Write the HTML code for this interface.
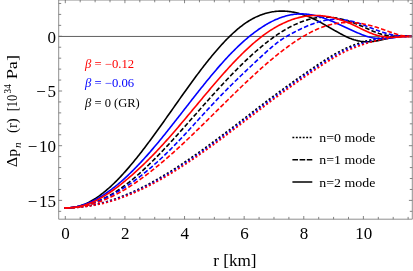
<!DOCTYPE html>
<html><head><meta charset="utf-8"><style>
html,body{margin:0;padding:0;background:#fff;}
body{width:413px;height:271px;overflow:hidden;font-family:"Liberation Serif",serif;}
svg{display:block}
</style></head><body>
<svg style="will-change:transform" width="413" height="271" viewBox="0 0 413 271">
<rect width="413" height="271" fill="#fff"/>
<path d="M58.7 36.45 H412.3" stroke="#2a2a2a" stroke-width="0.75" fill="none"/>
<path d="M64.50 207.90 L65.25 207.90 L66.34 207.78 L67.42 207.76 L68.51 207.73 L69.59 207.69 L70.68 207.65 L71.76 207.60 L72.85 207.54 L73.93 207.48 L75.02 207.40 L76.10 207.32 L77.19 207.23 L78.28 207.13 L79.36 207.02 L80.45 206.91 L81.53 206.79 L82.62 206.66 L83.70 206.52 L84.79 206.37 L85.87 206.22 L86.96 206.06 L88.04 205.89 L89.13 205.71 L90.21 205.52 L91.30 205.32 L92.39 205.11 L93.47 204.90 L94.56 204.67 L95.64 204.44 L96.73 204.20 L97.81 203.95 L98.90 203.70 L99.98 203.43 L101.07 203.16 L102.15 202.88 L103.24 202.59 L104.33 202.30 L105.41 201.99 L106.50 201.68 L107.58 201.36 L108.67 201.03 L109.75 200.70 L110.84 200.35 L111.92 200.00 L113.01 199.64 L114.09 199.28 L115.18 198.90 L116.26 198.52 L117.35 198.13 L118.44 197.74 L119.52 197.33 L120.61 196.92 L121.69 196.51 L122.78 196.08 L123.86 195.65 L124.95 195.21 L126.03 194.77 L127.12 194.32 L128.20 193.86 L129.29 193.39 L130.38 192.92 L131.46 192.44 L132.55 191.96 L133.63 191.47 L134.72 190.97 L135.80 190.46 L136.89 189.95 L137.97 189.43 L139.06 188.91 L140.14 188.38 L141.23 187.85 L142.32 187.30 L143.40 186.76 L144.49 186.20 L145.57 185.64 L146.66 185.08 L147.74 184.51 L148.83 183.93 L149.91 183.35 L151.00 182.76 L152.08 182.17 L153.17 181.57 L154.25 180.96 L155.34 180.35 L156.43 179.74 L157.51 179.12 L158.60 178.49 L159.68 177.86 L160.77 177.23 L161.85 176.59 L162.94 175.95 L164.02 175.31 L165.11 174.66 L166.19 174.00 L167.28 173.34 L168.37 172.68 L169.45 172.01 L170.54 171.34 L171.62 170.66 L172.71 169.98 L173.79 169.29 L174.88 168.60 L175.96 167.91 L177.05 167.21 L178.13 166.51 L179.22 165.80 L180.30 165.09 L181.39 164.37 L182.48 163.65 L183.56 162.93 L184.65 162.21 L185.73 161.47 L186.82 160.74 L187.90 160.00 L188.99 159.26 L190.07 158.52 L191.16 157.77 L192.24 157.02 L193.33 156.27 L194.42 155.51 L195.50 154.75 L196.59 153.98 L197.67 153.22 L198.76 152.45 L199.84 151.67 L200.93 150.90 L202.01 150.13 L203.10 149.35 L204.18 148.57 L205.27 147.79 L206.36 147.00 L207.44 146.22 L208.53 145.43 L209.61 144.64 L210.70 143.84 L211.78 143.04 L212.87 142.25 L213.95 141.44 L215.04 140.64 L216.12 139.84 L217.21 139.03 L218.29 138.22 L219.38 137.41 L220.47 136.59 L221.55 135.78 L222.64 134.96 L223.72 134.15 L224.81 133.33 L225.89 132.51 L226.98 131.68 L228.06 130.86 L229.15 130.03 L230.23 129.21 L231.32 128.38 L232.41 127.55 L233.49 126.72 L234.58 125.89 L235.66 125.06 L236.75 124.22 L237.83 123.39 L238.92 122.55 L240.00 121.72 L241.09 120.88 L242.17 120.05 L243.26 119.21 L244.34 118.37 L245.43 117.54 L246.52 116.70 L247.60 115.86 L248.69 115.02 L249.77 114.19 L250.86 113.35 L251.94 112.51 L253.03 111.68 L254.11 110.84 L255.20 110.01 L256.28 109.17 L257.37 108.34 L258.46 107.50 L259.54 106.67 L260.63 105.84 L261.71 105.01 L262.80 104.19 L263.88 103.36 L264.97 102.54 L266.05 101.72 L267.14 100.90 L268.22 100.08 L269.31 99.26 L270.39 98.44 L271.48 97.63 L272.57 96.82 L273.65 96.01 L274.74 95.20 L275.82 94.39 L276.91 93.59 L277.99 92.79 L279.08 91.99 L280.16 91.19 L281.25 90.39 L282.33 89.60 L283.42 88.81 L284.51 88.02 L285.59 87.23 L286.68 86.44 L287.76 85.66 L288.85 84.88 L289.93 84.10 L291.02 83.32 L292.10 82.55 L293.19 81.77 L294.27 81.00 L295.36 80.23 L296.45 79.46 L297.53 78.70 L298.62 77.93 L299.70 77.17 L300.79 76.41 L301.87 75.65 L302.96 74.90 L304.04 74.14 L305.13 73.39 L306.21 72.64 L307.30 71.89 L308.38 71.15 L309.47 70.40 L310.56 69.66 L311.64 68.92 L312.73 68.18 L313.81 67.44 L314.90 66.71 L315.98 65.98 L317.07 65.25 L318.15 64.52 L319.24 63.80 L320.32 63.08 L321.41 62.37 L322.50 61.66 L323.58 60.95 L324.67 60.25 L325.75 59.56 L326.84 58.87 L327.92 58.19 L329.01 57.52 L330.09 56.85 L331.18 56.20 L332.26 55.55 L333.35 54.92 L334.43 54.29 L335.52 53.67 L336.61 53.07 L337.69 52.47 L338.78 51.88 L339.86 51.30 L340.95 50.74 L342.03 50.18 L343.12 49.64 L344.20 49.11 L345.29 48.59 L346.37 48.09 L347.46 47.60 L348.55 47.12 L349.63 46.66 L350.72 46.21 L351.80 45.78 L352.89 45.35 L353.97 44.94 L355.06 44.54 L356.14 44.15 L357.23 43.77 L358.31 43.40 L359.40 43.03 L360.49 42.68 L361.57 42.35 L362.66 42.03 L363.74 41.72 L364.83 41.41 L365.91 41.11 L367.00 40.82 L368.08 40.54 L369.17 40.27 L370.25 40.00 L371.34 39.74 L372.42 39.49 L373.51 39.25 L374.60 39.02 L375.68 38.80 L376.77 38.58 L377.85 38.37 L378.94 38.17 L380.02 37.98 L381.11 37.80 L382.19 37.63 L383.28 37.46 L384.36 37.31 L385.45 37.16 L386.54 37.03 L387.62 36.91 L388.71 36.80 L389.79 36.69 L390.88 36.60 L391.96 36.51 L393.05 36.44 L394.13 36.37 L395.22 36.31 L396.30 36.26 L397.39 36.21 L398.47 36.18 L399.56 36.16 L400.65 36.14 L401.73 36.12 L402.82 36.11 L403.90 36.12 L404.99 36.13 L406.07 36.15 L407.16 36.18 L408.24 36.22 L409.33 36.27 L410.41 36.32 L411.50 36.39" fill="none" stroke="#000000" stroke-width="1.6" stroke-dasharray="2.1 2.1"/>
<path d="M64.50 207.90 L65.25 207.90 L66.34 207.83 L67.42 207.81 L68.51 207.78 L69.59 207.73 L70.68 207.66 L71.76 207.59 L72.85 207.49 L73.93 207.38 L75.02 207.26 L76.10 207.12 L77.19 206.96 L78.28 206.80 L79.36 206.61 L80.45 206.41 L81.53 206.20 L82.62 205.97 L83.70 205.73 L84.79 205.47 L85.87 205.19 L86.96 204.91 L88.04 204.60 L89.13 204.28 L90.21 203.95 L91.30 203.60 L92.39 203.24 L93.47 202.86 L94.56 202.47 L95.64 202.06 L96.73 201.63 L97.81 201.19 L98.90 200.74 L99.98 200.27 L101.07 199.79 L102.15 199.29 L103.24 198.78 L104.33 198.25 L105.41 197.71 L106.50 197.15 L107.58 196.57 L108.67 195.98 L109.75 195.38 L110.84 194.76 L111.92 194.13 L113.01 193.48 L114.09 192.82 L115.18 192.14 L116.26 191.44 L117.35 190.74 L118.44 190.01 L119.52 189.28 L120.61 188.53 L121.69 187.76 L122.78 186.98 L123.86 186.19 L124.95 185.39 L126.03 184.57 L127.12 183.74 L128.20 182.90 L129.29 182.04 L130.38 181.17 L131.46 180.29 L132.55 179.40 L133.63 178.50 L134.72 177.58 L135.80 176.66 L136.89 175.72 L137.97 174.77 L139.06 173.81 L140.14 172.84 L141.23 171.87 L142.32 170.88 L143.40 169.88 L144.49 168.87 L145.57 167.85 L146.66 166.83 L147.74 165.79 L148.83 164.75 L149.91 163.69 L151.00 162.63 L152.08 161.56 L153.17 160.48 L154.25 159.40 L155.34 158.31 L156.43 157.21 L157.51 156.10 L158.60 154.98 L159.68 153.86 L160.77 152.74 L161.85 151.60 L162.94 150.46 L164.02 149.32 L165.11 148.16 L166.19 147.01 L167.28 145.84 L168.37 144.68 L169.45 143.50 L170.54 142.33 L171.62 141.14 L172.71 139.96 L173.79 138.77 L174.88 137.57 L175.96 136.38 L177.05 135.17 L178.13 133.97 L179.22 132.76 L180.30 131.55 L181.39 130.34 L182.48 129.12 L183.56 127.90 L184.65 126.68 L185.73 125.46 L186.82 124.24 L187.90 123.01 L188.99 121.78 L190.07 120.56 L191.16 119.33 L192.24 118.10 L193.33 116.87 L194.42 115.64 L195.50 114.41 L196.59 113.18 L197.67 111.95 L198.76 110.72 L199.84 109.49 L200.93 108.26 L202.01 107.04 L203.10 105.81 L204.18 104.59 L205.27 103.37 L206.36 102.15 L207.44 100.93 L208.53 99.71 L209.61 98.50 L210.70 97.29 L211.78 96.08 L212.87 94.88 L213.95 93.68 L215.04 92.48 L216.12 91.29 L217.21 90.10 L218.29 88.91 L219.38 87.73 L220.47 86.55 L221.55 85.37 L222.64 84.20 L223.72 83.04 L224.81 81.88 L225.89 80.72 L226.98 79.57 L228.06 78.43 L229.15 77.29 L230.23 76.15 L231.32 75.02 L232.41 73.90 L233.49 72.78 L234.58 71.67 L235.66 70.57 L236.75 69.47 L237.83 68.38 L238.92 67.30 L240.00 66.22 L241.09 65.15 L242.17 64.09 L243.26 63.04 L244.34 61.99 L245.43 60.95 L246.52 59.92 L247.60 58.90 L248.69 57.88 L249.77 56.87 L250.86 55.88 L251.94 54.89 L253.03 53.91 L254.11 52.94 L255.20 51.98 L256.28 51.02 L257.37 50.08 L258.46 49.15 L259.54 48.23 L260.63 47.31 L261.71 46.41 L262.80 45.52 L263.88 44.64 L264.97 43.77 L266.05 42.91 L267.14 42.06 L268.22 41.22 L269.31 40.39 L270.39 39.58 L271.48 38.78 L272.57 37.99 L273.65 37.21 L274.74 36.44 L275.82 35.68 L276.91 34.94 L277.99 34.21 L279.08 33.50 L280.16 32.79 L281.25 32.10 L282.33 31.42 L283.42 30.76 L284.51 30.11 L285.59 29.47 L286.68 28.85 L287.76 28.24 L288.85 27.65 L289.93 27.07 L291.02 26.50 L292.10 25.95 L293.19 25.42 L294.27 24.90 L295.36 24.39 L296.45 23.90 L297.53 23.43 L298.62 22.97 L299.70 22.53 L300.79 22.10 L301.87 21.69 L302.96 21.30 L304.04 20.92 L305.13 20.56 L306.21 20.21 L307.30 19.88 L308.38 19.57 L309.47 19.28 L310.56 19.01 L311.64 18.75 L312.73 18.51 L313.81 18.29 L314.90 18.08 L315.98 17.90 L317.07 17.73 L318.15 17.58 L319.24 17.45 L320.32 17.34 L321.41 17.25 L322.50 17.18 L323.58 17.12 L324.67 17.09 L325.75 17.08 L326.84 17.08 L327.92 17.11 L329.01 17.15 L330.09 17.22 L331.18 17.31 L332.26 17.41 L333.35 17.54 L334.43 17.69 L335.52 17.85 L336.61 18.03 L337.69 18.23 L338.78 18.45 L339.86 18.68 L340.95 18.93 L342.03 19.20 L343.12 19.48 L344.20 19.77 L345.29 20.08 L346.37 20.41 L347.46 20.74 L348.55 21.09 L349.63 21.45 L350.72 21.83 L351.80 22.21 L352.89 22.61 L353.97 23.02 L355.06 23.43 L356.14 23.86 L357.23 24.29 L358.31 24.74 L359.40 25.19 L360.49 25.65 L361.57 26.11 L362.66 26.59 L363.74 27.06 L364.83 27.55 L365.91 28.04 L367.00 28.53 L368.08 29.02 L369.17 29.52 L370.25 30.00 L371.34 30.48 L372.42 30.95 L373.51 31.41 L374.60 31.86 L375.68 32.29 L376.77 32.70 L377.85 33.09 L378.94 33.46 L380.02 33.80 L381.11 34.12 L382.19 34.41 L383.28 34.67 L384.36 34.91 L385.45 35.13 L386.54 35.33 L387.62 35.50 L388.71 35.66 L389.79 35.79 L390.88 35.91 L391.96 36.02 L393.05 36.11 L394.13 36.18 L395.22 36.24 L396.30 36.29 L397.39 36.33 L398.47 36.36 L399.56 36.39 L400.65 36.40 L401.73 36.41 L402.82 36.41 L403.90 36.41 L404.99 36.41 L406.07 36.41 L407.16 36.40 L408.24 36.40 L409.33 36.39 L410.41 36.39 L411.50 36.40" fill="none" stroke="#000000" stroke-width="1.6" stroke-dasharray="4.6 2.2"/>
<path d="M64.50 207.90 L65.25 207.90 L66.34 207.91 L67.42 207.90 L68.51 207.87 L69.59 207.81 L70.68 207.72 L71.76 207.61 L72.85 207.47 L73.93 207.30 L75.02 207.11 L76.10 206.89 L77.19 206.64 L78.28 206.36 L79.36 206.06 L80.45 205.73 L81.53 205.37 L82.62 204.98 L83.70 204.57 L84.79 204.13 L85.87 203.66 L86.96 203.17 L88.04 202.65 L89.13 202.10 L90.21 201.53 L91.30 200.93 L92.39 200.31 L93.47 199.67 L94.56 199.00 L95.64 198.31 L96.73 197.59 L97.81 196.85 L98.90 196.09 L99.98 195.30 L101.07 194.50 L102.15 193.67 L103.24 192.82 L104.33 191.95 L105.41 191.06 L106.50 190.15 L107.58 189.22 L108.67 188.26 L109.75 187.29 L110.84 186.30 L111.92 185.29 L113.01 184.27 L114.09 183.22 L115.18 182.16 L116.26 181.08 L117.35 179.98 L118.44 178.86 L119.52 177.73 L120.61 176.58 L121.69 175.42 L122.78 174.24 L123.86 173.05 L124.95 171.84 L126.03 170.62 L127.12 169.38 L128.20 168.13 L129.29 166.86 L130.38 165.58 L131.46 164.29 L132.55 162.99 L133.63 161.67 L134.72 160.34 L135.80 159.00 L136.89 157.65 L137.97 156.29 L139.06 154.92 L140.14 153.54 L141.23 152.14 L142.32 150.74 L143.40 149.33 L144.49 147.91 L145.57 146.48 L146.66 145.04 L147.74 143.59 L148.83 142.14 L149.91 140.68 L151.00 139.21 L152.08 137.74 L153.17 136.26 L154.25 134.77 L155.34 133.28 L156.43 131.78 L157.51 130.28 L158.60 128.77 L159.68 127.25 L160.77 125.74 L161.85 124.22 L162.94 122.69 L164.02 121.17 L165.11 119.64 L166.19 118.11 L167.28 116.57 L168.37 115.04 L169.45 113.50 L170.54 111.96 L171.62 110.42 L172.71 108.88 L173.79 107.34 L174.88 105.80 L175.96 104.26 L177.05 102.72 L178.13 101.18 L179.22 99.65 L180.30 98.11 L181.39 96.58 L182.48 95.05 L183.56 93.53 L184.65 92.00 L185.73 90.49 L186.82 88.97 L187.90 87.46 L188.99 85.95 L190.07 84.45 L191.16 82.96 L192.24 81.47 L193.33 79.99 L194.42 78.51 L195.50 77.04 L196.59 75.58 L197.67 74.12 L198.76 72.68 L199.84 71.24 L200.93 69.81 L202.01 68.39 L203.10 66.98 L204.18 65.58 L205.27 64.19 L206.36 62.81 L207.44 61.44 L208.53 60.08 L209.61 58.73 L210.70 57.40 L211.78 56.08 L212.87 54.77 L213.95 53.47 L215.04 52.19 L216.12 50.92 L217.21 49.66 L218.29 48.42 L219.38 47.20 L220.47 45.99 L221.55 44.79 L222.64 43.61 L223.72 42.45 L224.81 41.30 L225.89 40.17 L226.98 39.06 L228.06 37.97 L229.15 36.89 L230.23 35.84 L231.32 34.80 L232.41 33.78 L233.49 32.78 L234.58 31.80 L235.66 30.84 L236.75 29.90 L237.83 28.98 L238.92 28.08 L240.00 27.21 L241.09 26.36 L242.17 25.53 L243.26 24.72 L244.34 23.93 L245.43 23.17 L246.52 22.43 L247.60 21.72 L248.69 21.03 L249.77 20.37 L250.86 19.73 L251.94 19.11 L253.03 18.52 L254.11 17.96 L255.20 17.41 L256.28 16.89 L257.37 16.40 L258.46 15.93 L259.54 15.48 L260.63 15.05 L261.71 14.65 L262.80 14.27 L263.88 13.91 L264.97 13.57 L266.05 13.26 L267.14 12.97 L268.22 12.70 L269.31 12.45 L270.39 12.22 L271.48 12.02 L272.57 11.83 L273.65 11.67 L274.74 11.53 L275.82 11.41 L276.91 11.31 L277.99 11.23 L279.08 11.17 L280.16 11.13 L281.25 11.11 L282.33 11.11 L283.42 11.13 L284.51 11.17 L285.59 11.22 L286.68 11.30 L287.76 11.40 L288.85 11.51 L289.93 11.65 L291.02 11.80 L292.10 11.97 L293.19 12.16 L294.27 12.37 L295.36 12.59 L296.45 12.84 L297.53 13.10 L298.62 13.37 L299.70 13.67 L300.79 13.98 L301.87 14.31 L302.96 14.65 L304.04 15.02 L305.13 15.39 L306.21 15.79 L307.30 16.20 L308.38 16.63 L309.47 17.07 L310.56 17.53 L311.64 18.00 L312.73 18.49 L313.81 18.99 L314.90 19.51 L315.98 20.04 L317.07 20.59 L318.15 21.15 L319.24 21.72 L320.32 22.30 L321.41 22.89 L322.50 23.48 L323.58 24.09 L324.67 24.70 L325.75 25.32 L326.84 25.94 L327.92 26.56 L329.01 27.19 L330.09 27.82 L331.18 28.45 L332.26 29.07 L333.35 29.70 L334.43 30.32 L335.52 30.94 L336.61 31.56 L337.69 32.17 L338.78 32.77 L339.86 33.37 L340.95 33.96 L342.03 34.53 L343.12 35.10 L344.20 35.65 L345.29 36.19 L346.37 36.71 L347.46 37.21 L348.55 37.69 L349.63 38.15 L350.72 38.58 L351.80 38.99 L352.89 39.37 L353.97 39.73 L355.06 40.05 L356.14 40.35 L357.23 40.62 L358.31 40.87 L359.40 41.08 L360.49 41.27 L361.57 41.43 L362.66 41.56 L363.74 41.66 L364.83 41.73 L365.91 41.78 L367.00 41.79 L368.08 41.78 L369.17 41.74 L370.25 41.68 L371.34 41.59 L372.42 41.48 L373.51 41.35 L374.60 41.20 L375.68 41.04 L376.77 40.85 L377.85 40.66 L378.94 40.45 L380.02 40.23 L381.11 40.00 L382.19 39.77 L383.28 39.53 L384.36 39.28 L385.45 39.03 L386.54 38.78 L387.62 38.53 L388.71 38.29 L389.79 38.04 L390.88 37.81 L391.96 37.58 L393.05 37.35 L394.13 37.14 L395.22 36.94 L396.30 36.75 L397.39 36.58 L398.47 36.42 L399.56 36.28 L400.65 36.17 L401.73 36.07 L402.82 35.99 L403.90 35.94 L404.99 35.92 L406.07 35.93 L407.16 35.96 L408.24 36.02 L409.33 36.12 L410.41 36.25 L411.50 36.40" fill="none" stroke="#000000" stroke-width="1.6" />
<path d="M64.50 207.90 L65.25 207.90 L66.34 207.79 L67.42 207.78 L68.51 207.76 L69.59 207.73 L70.68 207.70 L71.76 207.66 L72.85 207.60 L73.93 207.55 L75.02 207.48 L76.10 207.41 L77.19 207.33 L78.28 207.24 L79.36 207.14 L80.45 207.03 L81.53 206.92 L82.62 206.80 L83.70 206.67 L84.79 206.53 L85.87 206.38 L86.96 206.23 L88.04 206.07 L89.13 205.90 L90.21 205.72 L91.30 205.54 L92.39 205.34 L93.47 205.14 L94.56 204.93 L95.64 204.72 L96.73 204.49 L97.81 204.26 L98.90 204.02 L99.98 203.77 L101.07 203.51 L102.15 203.24 L103.24 202.97 L104.33 202.69 L105.41 202.40 L106.50 202.10 L107.58 201.80 L108.67 201.48 L109.75 201.16 L110.84 200.83 L111.92 200.50 L113.01 200.15 L114.09 199.80 L115.18 199.44 L116.26 199.07 L117.35 198.70 L118.44 198.32 L119.52 197.93 L120.61 197.53 L121.69 197.13 L122.78 196.72 L123.86 196.30 L124.95 195.88 L126.03 195.44 L127.12 195.01 L128.20 194.56 L129.29 194.11 L130.38 193.65 L131.46 193.19 L132.55 192.71 L133.63 192.24 L134.72 191.75 L135.80 191.26 L136.89 190.76 L137.97 190.26 L139.06 189.75 L140.14 189.23 L141.23 188.71 L142.32 188.18 L143.40 187.65 L144.49 187.11 L145.57 186.56 L146.66 186.01 L147.74 185.45 L148.83 184.89 L149.91 184.32 L151.00 183.75 L152.08 183.17 L153.17 182.58 L154.25 181.99 L155.34 181.39 L156.43 180.79 L157.51 180.19 L158.60 179.57 L159.68 178.96 L160.77 178.33 L161.85 177.71 L162.94 177.08 L164.02 176.44 L165.11 175.80 L166.19 175.15 L167.28 174.50 L168.37 173.84 L169.45 173.18 L170.54 172.52 L171.62 171.85 L172.71 171.17 L173.79 170.50 L174.88 169.81 L175.96 169.13 L177.05 168.44 L178.13 167.74 L179.22 167.04 L180.30 166.34 L181.39 165.63 L182.48 164.92 L183.56 164.21 L184.65 163.49 L185.73 162.77 L186.82 162.04 L187.90 161.31 L188.99 160.58 L190.07 159.84 L191.16 159.10 L192.24 158.36 L193.33 157.62 L194.42 156.87 L195.50 156.11 L196.59 155.36 L197.67 154.60 L198.76 153.84 L199.84 153.07 L200.93 152.30 L202.01 151.53 L203.10 150.76 L204.18 149.99 L205.27 149.21 L206.36 148.43 L207.44 147.64 L208.53 146.86 L209.61 146.07 L210.70 145.28 L211.78 144.48 L212.87 143.69 L213.95 142.89 L215.04 142.09 L216.12 141.29 L217.21 140.49 L218.29 139.68 L219.38 138.87 L220.47 138.06 L221.55 137.25 L222.64 136.44 L223.72 135.62 L224.81 134.81 L225.89 133.99 L226.98 133.17 L228.06 132.35 L229.15 131.53 L230.23 130.71 L231.32 129.88 L232.41 129.06 L233.49 128.23 L234.58 127.40 L235.66 126.57 L236.75 125.75 L237.83 124.92 L238.92 124.08 L240.00 123.25 L241.09 122.42 L242.17 121.59 L243.26 120.75 L244.34 119.92 L245.43 119.09 L246.52 118.25 L247.60 117.42 L248.69 116.59 L249.77 115.75 L250.86 114.92 L251.94 114.09 L253.03 113.25 L254.11 112.42 L255.20 111.59 L256.28 110.76 L257.37 109.93 L258.46 109.10 L259.54 108.27 L260.63 107.44 L261.71 106.61 L262.80 105.79 L263.88 104.96 L264.97 104.14 L266.05 103.32 L267.14 102.50 L268.22 101.68 L269.31 100.86 L270.39 100.04 L271.48 99.23 L272.57 98.42 L273.65 97.61 L274.74 96.80 L275.82 95.99 L276.91 95.19 L277.99 94.39 L279.08 93.59 L280.16 92.79 L281.25 91.99 L282.33 91.20 L283.42 90.41 L284.51 89.62 L285.59 88.83 L286.68 88.04 L287.76 87.26 L288.85 86.48 L289.93 85.70 L291.02 84.92 L292.10 84.15 L293.19 83.37 L294.27 82.60 L295.36 81.83 L296.45 81.06 L297.53 80.30 L298.62 79.53 L299.70 78.77 L300.79 78.01 L301.87 77.25 L302.96 76.50 L304.04 75.74 L305.13 74.99 L306.21 74.24 L307.30 73.49 L308.38 72.75 L309.47 72.00 L310.56 71.26 L311.64 70.52 L312.73 69.78 L313.81 69.04 L314.90 68.31 L315.98 67.58 L317.07 66.85 L318.15 66.12 L319.24 65.40 L320.32 64.68 L321.41 63.97 L322.50 63.26 L323.58 62.55 L324.67 61.85 L325.75 61.16 L326.84 60.47 L327.92 59.79 L329.01 59.12 L330.09 58.45 L331.18 57.79 L332.26 57.14 L333.35 56.50 L334.43 55.86 L335.52 55.24 L336.61 54.62 L337.69 54.02 L338.78 53.42 L339.86 52.84 L340.95 52.27 L342.03 51.70 L343.12 51.15 L344.20 50.62 L345.29 50.09 L346.37 49.58 L347.46 49.08 L348.55 48.60 L349.63 48.13 L350.72 47.67 L351.80 47.23 L352.89 46.80 L353.97 46.38 L355.06 45.98 L356.14 45.58 L357.23 45.19 L358.31 44.81 L359.40 44.44 L360.49 44.07 L361.57 43.72 L362.66 43.37 L363.74 43.03 L364.83 42.70 L365.91 42.37 L367.00 42.05 L368.08 41.75 L369.17 41.45 L370.25 41.16 L371.34 40.87 L372.42 40.60 L373.51 40.33 L374.60 40.07 L375.68 39.82 L376.77 39.58 L377.85 39.35 L378.94 39.12 L380.02 38.90 L381.11 38.69 L382.19 38.49 L383.28 38.30 L384.36 38.12 L385.45 37.95 L386.54 37.78 L387.62 37.62 L388.71 37.47 L389.79 37.34 L390.88 37.20 L391.96 37.08 L393.05 36.97 L394.13 36.86 L395.22 36.77 L396.30 36.68 L397.39 36.60 L398.47 36.53 L399.56 36.47 L400.65 36.42 L401.73 36.38 L402.82 36.34 L403.90 36.32 L404.99 36.30 L406.07 36.30 L407.16 36.30 L408.24 36.31 L409.33 36.33 L410.41 36.36 L411.50 36.40" fill="none" stroke="#0000ff" stroke-width="1.6" stroke-dasharray="2.1 2.1"/>
<path d="M64.50 207.90 L65.25 207.90 L66.34 207.86 L67.42 207.83 L68.51 207.78 L69.59 207.71 L70.68 207.63 L71.76 207.54 L72.85 207.43 L73.93 207.31 L75.02 207.17 L76.10 207.02 L77.19 206.86 L78.28 206.68 L79.36 206.49 L80.45 206.29 L81.53 206.07 L82.62 205.84 L83.70 205.60 L84.79 205.34 L85.87 205.07 L86.96 204.79 L88.04 204.49 L89.13 204.18 L90.21 203.86 L91.30 203.53 L92.39 203.18 L93.47 202.82 L94.56 202.45 L95.64 202.06 L96.73 201.66 L97.81 201.25 L98.90 200.83 L99.98 200.40 L101.07 199.95 L102.15 199.49 L103.24 199.02 L104.33 198.54 L105.41 198.04 L106.50 197.54 L107.58 197.02 L108.67 196.49 L109.75 195.95 L110.84 195.40 L111.92 194.84 L113.01 194.26 L114.09 193.67 L115.18 193.08 L116.26 192.47 L117.35 191.85 L118.44 191.22 L119.52 190.58 L120.61 189.93 L121.69 189.26 L122.78 188.59 L123.86 187.91 L124.95 187.21 L126.03 186.51 L127.12 185.79 L128.20 185.06 L129.29 184.33 L130.38 183.58 L131.46 182.82 L132.55 182.06 L133.63 181.28 L134.72 180.49 L135.80 179.69 L136.89 178.89 L137.97 178.07 L139.06 177.24 L140.14 176.41 L141.23 175.56 L142.32 174.71 L143.40 173.84 L144.49 172.97 L145.57 172.08 L146.66 171.19 L147.74 170.29 L148.83 169.38 L149.91 168.45 L151.00 167.52 L152.08 166.59 L153.17 165.64 L154.25 164.68 L155.34 163.72 L156.43 162.74 L157.51 161.76 L158.60 160.77 L159.68 159.77 L160.77 158.76 L161.85 157.74 L162.94 156.72 L164.02 155.68 L165.11 154.64 L166.19 153.59 L167.28 152.53 L168.37 151.47 L169.45 150.39 L170.54 149.31 L171.62 148.22 L172.71 147.12 L173.79 146.02 L174.88 144.90 L175.96 143.78 L177.05 142.66 L178.13 141.53 L179.22 140.39 L180.30 139.24 L181.39 138.09 L182.48 136.94 L183.56 135.78 L184.65 134.62 L185.73 133.45 L186.82 132.28 L187.90 131.11 L188.99 129.93 L190.07 128.76 L191.16 127.57 L192.24 126.39 L193.33 125.21 L194.42 124.02 L195.50 122.83 L196.59 121.65 L197.67 120.46 L198.76 119.27 L199.84 118.08 L200.93 116.90 L202.01 115.71 L203.10 114.53 L204.18 113.34 L205.27 112.16 L206.36 110.98 L207.44 109.81 L208.53 108.64 L209.61 107.47 L210.70 106.30 L211.78 105.14 L212.87 103.98 L213.95 102.83 L215.04 101.68 L216.12 100.54 L217.21 99.40 L218.29 98.27 L219.38 97.14 L220.47 96.02 L221.55 94.90 L222.64 93.78 L223.72 92.68 L224.81 91.57 L225.89 90.47 L226.98 89.38 L228.06 88.29 L229.15 87.20 L230.23 86.12 L231.32 85.04 L232.41 83.97 L233.49 82.89 L234.58 81.83 L235.66 80.76 L236.75 79.71 L237.83 78.65 L238.92 77.60 L240.00 76.55 L241.09 75.50 L242.17 74.46 L243.26 73.42 L244.34 72.38 L245.43 71.35 L246.52 70.32 L247.60 69.29 L248.69 68.27 L249.77 67.25 L250.86 66.23 L251.94 65.21 L253.03 64.19 L254.11 63.18 L255.20 62.17 L256.28 61.16 L257.37 60.15 L258.46 59.15 L259.54 58.15 L260.63 57.14 L261.71 56.15 L262.80 55.15 L263.88 54.15 L264.97 53.16 L266.05 52.17 L267.14 51.19 L268.22 50.22 L269.31 49.25 L270.39 48.30 L271.48 47.36 L272.57 46.44 L273.65 45.53 L274.74 44.64 L275.82 43.77 L276.91 42.92 L277.99 42.09 L279.08 41.29 L280.16 40.52 L281.25 39.77 L282.33 39.05 L283.42 38.36 L284.51 37.69 L285.59 37.04 L286.68 36.41 L287.76 35.78 L288.85 35.16 L289.93 34.55 L291.02 33.95 L292.10 33.36 L293.19 32.77 L294.27 32.19 L295.36 31.62 L296.45 31.06 L297.53 30.51 L298.62 29.97 L299.70 29.44 L300.79 28.92 L301.87 28.40 L302.96 27.90 L304.04 27.41 L305.13 26.93 L306.21 26.46 L307.30 26.00 L308.38 25.55 L309.47 25.12 L310.56 24.69 L311.64 24.28 L312.73 23.88 L313.81 23.50 L314.90 23.13 L315.98 22.77 L317.07 22.42 L318.15 22.10 L319.24 21.78 L320.32 21.48 L321.41 21.20 L322.50 20.94 L323.58 20.69 L324.67 20.46 L325.75 20.25 L326.84 20.06 L327.92 19.88 L329.01 19.73 L330.09 19.60 L331.18 19.48 L332.26 19.39 L333.35 19.32 L334.43 19.27 L335.52 19.25 L336.61 19.25 L337.69 19.27 L338.78 19.31 L339.86 19.38 L340.95 19.48 L342.03 19.59 L343.12 19.73 L344.20 19.88 L345.29 20.04 L346.37 20.21 L347.46 20.39 L348.55 20.58 L349.63 20.77 L350.72 20.99 L351.80 21.22 L352.89 21.46 L353.97 21.73 L355.06 22.03 L356.14 22.34 L357.23 22.69 L358.31 23.05 L359.40 23.42 L360.49 23.82 L361.57 24.22 L362.66 24.64 L363.74 25.06 L364.83 25.50 L365.91 25.93 L367.00 26.37 L368.08 26.80 L369.17 27.24 L370.25 27.68 L371.34 28.11 L372.42 28.54 L373.51 28.96 L374.60 29.38 L375.68 29.79 L376.77 30.20 L377.85 30.60 L378.94 30.99 L380.02 31.37 L381.11 31.75 L382.19 32.11 L383.28 32.46 L384.36 32.80 L385.45 33.13 L386.54 33.45 L387.62 33.76 L388.71 34.05 L389.79 34.33 L390.88 34.60 L391.96 34.85 L393.05 35.09 L394.13 35.31 L395.22 35.52 L396.30 35.71 L397.39 35.88 L398.47 36.03 L399.56 36.17 L400.65 36.29 L401.73 36.40 L402.82 36.48 L403.90 36.54 L404.99 36.59 L406.07 36.61 L407.16 36.61 L408.24 36.59 L409.33 36.55 L410.41 36.48 L411.50 36.40" fill="none" stroke="#0000ff" stroke-width="1.6" stroke-dasharray="4.6 2.2"/>
<path d="M64.50 207.90 L65.25 207.90 L66.34 207.84 L67.42 207.81 L68.51 207.76 L69.59 207.69 L70.68 207.59 L71.76 207.48 L72.85 207.34 L73.93 207.17 L75.02 206.99 L76.10 206.78 L77.19 206.56 L78.28 206.31 L79.36 206.04 L80.45 205.75 L81.53 205.43 L82.62 205.10 L83.70 204.75 L84.79 204.38 L85.87 203.99 L86.96 203.57 L88.04 203.14 L89.13 202.69 L90.21 202.22 L91.30 201.73 L92.39 201.22 L93.47 200.70 L94.56 200.15 L95.64 199.59 L96.73 199.00 L97.81 198.40 L98.90 197.79 L99.98 197.15 L101.07 196.50 L102.15 195.83 L103.24 195.14 L104.33 194.44 L105.41 193.72 L106.50 192.98 L107.58 192.23 L108.67 191.46 L109.75 190.68 L110.84 189.87 L111.92 189.06 L113.01 188.23 L114.09 187.38 L115.18 186.52 L116.26 185.64 L117.35 184.75 L118.44 183.85 L119.52 182.93 L120.61 181.99 L121.69 181.05 L122.78 180.08 L123.86 179.11 L124.95 178.12 L126.03 177.12 L127.12 176.11 L128.20 175.08 L129.29 174.04 L130.38 172.99 L131.46 171.92 L132.55 170.85 L133.63 169.76 L134.72 168.66 L135.80 167.55 L136.89 166.43 L137.97 165.30 L139.06 164.15 L140.14 163.00 L141.23 161.83 L142.32 160.66 L143.40 159.47 L144.49 158.27 L145.57 157.07 L146.66 155.85 L147.74 154.63 L148.83 153.40 L149.91 152.15 L151.00 150.90 L152.08 149.64 L153.17 148.37 L154.25 147.10 L155.34 145.81 L156.43 144.52 L157.51 143.22 L158.60 141.91 L159.68 140.59 L160.77 139.27 L161.85 137.94 L162.94 136.61 L164.02 135.27 L165.11 133.92 L166.19 132.57 L167.28 131.22 L168.37 129.86 L169.45 128.49 L170.54 127.12 L171.62 125.75 L172.71 124.37 L173.79 123.00 L174.88 121.61 L175.96 120.23 L177.05 118.84 L178.13 117.45 L179.22 116.06 L180.30 114.67 L181.39 113.28 L182.48 111.88 L183.56 110.49 L184.65 109.10 L185.73 107.70 L186.82 106.31 L187.90 104.91 L188.99 103.52 L190.07 102.13 L191.16 100.74 L192.24 99.35 L193.33 97.97 L194.42 96.59 L195.50 95.20 L196.59 93.83 L197.67 92.45 L198.76 91.08 L199.84 89.72 L200.93 88.36 L202.01 87.00 L203.10 85.65 L204.18 84.30 L205.27 82.96 L206.36 81.62 L207.44 80.29 L208.53 78.97 L209.61 77.65 L210.70 76.34 L211.78 75.04 L212.87 73.74 L213.95 72.45 L215.04 71.17 L216.12 69.90 L217.21 68.64 L218.29 67.38 L219.38 66.14 L220.47 64.90 L221.55 63.68 L222.64 62.46 L223.72 61.26 L224.81 60.07 L225.89 58.88 L226.98 57.71 L228.06 56.55 L229.15 55.40 L230.23 54.27 L231.32 53.15 L232.41 52.04 L233.49 50.94 L234.58 49.85 L235.66 48.78 L236.75 47.72 L237.83 46.68 L238.92 45.64 L240.00 44.62 L241.09 43.62 L242.17 42.63 L243.26 41.65 L244.34 40.69 L245.43 39.74 L246.52 38.81 L247.60 37.89 L248.69 36.98 L249.77 36.09 L250.86 35.22 L251.94 34.36 L253.03 33.51 L254.11 32.68 L255.20 31.87 L256.28 31.07 L257.37 30.29 L258.46 29.53 L259.54 28.78 L260.63 28.05 L261.71 27.33 L262.80 26.63 L263.88 25.95 L264.97 25.29 L266.05 24.64 L267.14 24.01 L268.22 23.39 L269.31 22.80 L270.39 22.22 L271.48 21.66 L272.57 21.12 L273.65 20.60 L274.74 20.09 L275.82 19.60 L276.91 19.14 L277.99 18.69 L279.08 18.26 L280.16 17.85 L281.25 17.45 L282.33 17.08 L283.42 16.73 L284.51 16.40 L285.59 16.08 L286.68 15.79 L287.76 15.52 L288.85 15.26 L289.93 15.03 L291.02 14.82 L292.10 14.63 L293.19 14.46 L294.27 14.31 L295.36 14.18 L296.45 14.08 L297.53 13.99 L298.62 13.93 L299.70 13.89 L300.79 13.87 L301.87 13.87 L302.96 13.90 L304.04 13.95 L305.13 14.02 L306.21 14.11 L307.30 14.22 L308.38 14.35 L309.47 14.51 L310.56 14.68 L311.64 14.87 L312.73 15.08 L313.81 15.31 L314.90 15.55 L315.98 15.81 L317.07 16.09 L318.15 16.38 L319.24 16.69 L320.32 17.01 L321.41 17.35 L322.50 17.70 L323.58 18.06 L324.67 18.44 L325.75 18.83 L326.84 19.22 L327.92 19.63 L329.01 20.05 L330.09 20.48 L331.18 20.92 L332.26 21.36 L333.35 21.82 L334.43 22.28 L335.52 22.74 L336.61 23.22 L337.69 23.70 L338.78 24.18 L339.86 24.67 L340.95 25.17 L342.03 25.66 L343.12 26.16 L344.20 26.67 L345.29 27.17 L346.37 27.68 L347.46 28.18 L348.55 28.69 L349.63 29.20 L350.72 29.70 L351.80 30.21 L352.89 30.71 L353.97 31.21 L355.06 31.70 L356.14 32.18 L357.23 32.66 L358.31 33.13 L359.40 33.59 L360.49 34.04 L361.57 34.47 L362.66 34.89 L363.74 35.29 L364.83 35.68 L365.91 36.05 L367.00 36.39 L368.08 36.72 L369.17 37.02 L370.25 37.30 L371.34 37.56 L372.42 37.79 L373.51 37.99 L374.60 38.16 L375.68 38.30 L376.77 38.42 L377.85 38.51 L378.94 38.58 L380.02 38.62 L381.11 38.64 L382.19 38.64 L383.28 38.62 L384.36 38.58 L385.45 38.53 L386.54 38.46 L387.62 38.37 L388.71 38.27 L389.79 38.16 L390.88 38.04 L391.96 37.90 L393.05 37.76 L394.13 37.62 L395.22 37.47 L396.30 37.32 L397.39 37.18 L398.47 37.03 L399.56 36.90 L400.65 36.77 L401.73 36.65 L402.82 36.54 L403.90 36.45 L404.99 36.37 L406.07 36.31 L407.16 36.28 L408.24 36.27 L409.33 36.28 L410.41 36.32 L411.50 36.40" fill="none" stroke="#0000ff" stroke-width="1.6" />
<path d="M64.50 207.90 L65.25 207.90 L66.34 207.80 L67.42 207.80 L68.51 207.79 L69.59 207.77 L70.68 207.74 L71.76 207.71 L72.85 207.67 L73.93 207.62 L75.02 207.56 L76.10 207.50 L77.19 207.42 L78.28 207.34 L79.36 207.25 L80.45 207.16 L81.53 207.05 L82.62 206.94 L83.70 206.82 L84.79 206.69 L85.87 206.55 L86.96 206.41 L88.04 206.25 L89.13 206.09 L90.21 205.93 L91.30 205.75 L92.39 205.58 L93.47 205.39 L94.56 205.19 L95.64 204.99 L96.73 204.78 L97.81 204.56 L98.90 204.33 L99.98 204.10 L101.07 203.86 L102.15 203.61 L103.24 203.35 L104.33 203.08 L105.41 202.80 L106.50 202.52 L107.58 202.23 L108.67 201.93 L109.75 201.62 L110.84 201.31 L111.92 200.99 L113.01 200.66 L114.09 200.32 L115.18 199.98 L116.26 199.62 L117.35 199.26 L118.44 198.90 L119.52 198.52 L120.61 198.14 L121.69 197.75 L122.78 197.35 L123.86 196.95 L124.95 196.54 L126.03 196.12 L127.12 195.70 L128.20 195.26 L129.29 194.83 L130.38 194.38 L131.46 193.93 L132.55 193.47 L133.63 193.01 L134.72 192.54 L135.80 192.06 L136.89 191.57 L137.97 191.08 L139.06 190.59 L140.14 190.09 L141.23 189.58 L142.32 189.06 L143.40 188.54 L144.49 188.01 L145.57 187.48 L146.66 186.94 L147.74 186.40 L148.83 185.85 L149.91 185.29 L151.00 184.73 L152.08 184.17 L153.17 183.60 L154.25 183.02 L155.34 182.44 L156.43 181.85 L157.51 181.25 L158.60 180.66 L159.68 180.05 L160.77 179.44 L161.85 178.82 L162.94 178.20 L164.02 177.57 L165.11 176.94 L166.19 176.30 L167.28 175.65 L168.37 175.01 L169.45 174.35 L170.54 173.70 L171.62 173.04 L172.71 172.37 L173.79 171.70 L174.88 171.03 L175.96 170.35 L177.05 169.66 L178.13 168.98 L179.22 168.29 L180.30 167.59 L181.39 166.89 L182.48 166.19 L183.56 165.48 L184.65 164.77 L185.73 164.06 L186.82 163.34 L187.90 162.62 L188.99 161.90 L190.07 161.17 L191.16 160.44 L192.24 159.70 L193.33 158.97 L194.42 158.22 L195.50 157.48 L196.59 156.73 L197.67 155.98 L198.76 155.23 L199.84 154.47 L200.93 153.71 L202.01 152.94 L203.10 152.17 L204.18 151.40 L205.27 150.62 L206.36 149.85 L207.44 149.07 L208.53 148.28 L209.61 147.50 L210.70 146.71 L211.78 145.92 L212.87 145.13 L213.95 144.34 L215.04 143.54 L216.12 142.74 L217.21 141.94 L218.29 141.14 L219.38 140.34 L220.47 139.53 L221.55 138.72 L222.64 137.91 L223.72 137.10 L224.81 136.29 L225.89 135.48 L226.98 134.66 L228.06 133.85 L229.15 133.03 L230.23 132.21 L231.32 131.39 L232.41 130.57 L233.49 129.74 L234.58 128.92 L235.66 128.09 L236.75 127.27 L237.83 126.44 L238.92 125.61 L240.00 124.79 L241.09 123.96 L242.17 123.13 L243.26 122.30 L244.34 121.47 L245.43 120.64 L246.52 119.81 L247.60 118.98 L248.69 118.15 L249.77 117.32 L250.86 116.49 L251.94 115.66 L253.03 114.83 L254.11 114.00 L255.20 113.17 L256.28 112.35 L257.37 111.52 L258.46 110.69 L259.54 109.87 L260.63 109.04 L261.71 108.21 L262.80 107.39 L263.88 106.56 L264.97 105.74 L266.05 104.92 L267.14 104.10 L268.22 103.28 L269.31 102.46 L270.39 101.64 L271.48 100.83 L272.57 100.02 L273.65 99.21 L274.74 98.40 L275.82 97.59 L276.91 96.79 L277.99 95.99 L279.08 95.19 L280.16 94.39 L281.25 93.59 L282.33 92.80 L283.42 92.01 L284.51 91.22 L285.59 90.43 L286.68 89.64 L287.76 88.86 L288.85 88.08 L289.93 87.30 L291.02 86.52 L292.10 85.75 L293.19 84.97 L294.27 84.20 L295.36 83.43 L296.45 82.66 L297.53 81.90 L298.62 81.13 L299.70 80.37 L300.79 79.61 L301.87 78.85 L302.96 78.10 L304.04 77.34 L305.13 76.59 L306.21 75.84 L307.30 75.09 L308.38 74.35 L309.47 73.60 L310.56 72.86 L311.64 72.12 L312.73 71.38 L313.81 70.64 L314.90 69.91 L315.98 69.18 L317.07 68.45 L318.15 67.72 L319.24 67.00 L320.32 66.28 L321.41 65.57 L322.50 64.86 L323.58 64.15 L324.67 63.45 L325.75 62.76 L326.84 62.07 L327.92 61.39 L329.01 60.72 L330.09 60.05 L331.18 59.38 L332.26 58.72 L333.35 58.07 L334.43 57.43 L335.52 56.80 L336.61 56.18 L337.69 55.57 L338.78 54.96 L339.86 54.37 L340.95 53.79 L342.03 53.22 L343.12 52.67 L344.20 52.12 L345.29 51.59 L346.37 51.07 L347.46 50.57 L348.55 50.08 L349.63 49.60 L350.72 49.13 L351.80 48.69 L352.89 48.25 L353.97 47.82 L355.06 47.41 L356.14 47.00 L357.23 46.61 L358.31 46.22 L359.40 45.84 L360.49 45.46 L361.57 45.08 L362.66 44.70 L363.74 44.34 L364.83 43.98 L365.91 43.63 L367.00 43.29 L368.08 42.95 L369.17 42.63 L370.25 42.31 L371.34 42.00 L372.42 41.70 L373.51 41.41 L374.60 41.12 L375.68 40.84 L376.77 40.58 L377.85 40.32 L378.94 40.07 L380.02 39.82 L381.11 39.59 L382.19 39.36 L383.28 39.14 L384.36 38.94 L385.45 38.73 L386.54 38.53 L387.62 38.34 L388.71 38.15 L389.79 37.98 L390.88 37.81 L391.96 37.65 L393.05 37.50 L394.13 37.36 L395.22 37.23 L396.30 37.10 L397.39 36.99 L398.47 36.88 L399.56 36.79 L400.65 36.70 L401.73 36.63 L402.82 36.57 L403.90 36.52 L404.99 36.48 L406.07 36.45 L407.16 36.42 L408.24 36.41 L409.33 36.40 L410.41 36.40 L411.50 36.41" fill="none" stroke="#ff0000" stroke-width="1.6" stroke-dasharray="2.1 2.1"/>
<path d="M64.50 207.90 L65.25 207.90 L66.34 207.86 L67.42 207.84 L68.51 207.81 L69.59 207.77 L70.68 207.71 L71.76 207.64 L72.85 207.56 L73.93 207.47 L75.02 207.36 L76.10 207.24 L77.19 207.11 L78.28 206.97 L79.36 206.81 L80.45 206.65 L81.53 206.47 L82.62 206.27 L83.70 206.07 L84.79 205.85 L85.87 205.62 L86.96 205.38 L88.04 205.13 L89.13 204.86 L90.21 204.58 L91.30 204.29 L92.39 203.99 L93.47 203.67 L94.56 203.35 L95.64 203.01 L96.73 202.66 L97.81 202.29 L98.90 201.92 L99.98 201.53 L101.07 201.13 L102.15 200.72 L103.24 200.30 L104.33 199.86 L105.41 199.41 L106.50 198.95 L107.58 198.48 L108.67 198.00 L109.75 197.51 L110.84 197.00 L111.92 196.48 L113.01 195.96 L114.09 195.42 L115.18 194.87 L116.26 194.31 L117.35 193.74 L118.44 193.15 L119.52 192.56 L120.61 191.96 L121.69 191.35 L122.78 190.72 L123.86 190.09 L124.95 189.45 L126.03 188.79 L127.12 188.13 L128.20 187.46 L129.29 186.78 L130.38 186.09 L131.46 185.39 L132.55 184.68 L133.63 183.96 L134.72 183.23 L135.80 182.49 L136.89 181.75 L137.97 180.99 L139.06 180.23 L140.14 179.46 L141.23 178.68 L142.32 177.90 L143.40 177.10 L144.49 176.30 L145.57 175.49 L146.66 174.67 L147.74 173.85 L148.83 173.01 L149.91 172.17 L151.00 171.32 L152.08 170.47 L153.17 169.61 L154.25 168.74 L155.34 167.86 L156.43 166.98 L157.51 166.09 L158.60 165.20 L159.68 164.30 L160.77 163.39 L161.85 162.47 L162.94 161.55 L164.02 160.63 L165.11 159.70 L166.19 158.76 L167.28 157.82 L168.37 156.87 L169.45 155.92 L170.54 154.96 L171.62 153.99 L172.71 153.03 L173.79 152.05 L174.88 151.07 L175.96 150.09 L177.05 149.10 L178.13 148.11 L179.22 147.12 L180.30 146.12 L181.39 145.11 L182.48 144.10 L183.56 143.09 L184.65 142.08 L185.73 141.06 L186.82 140.03 L187.90 139.01 L188.99 137.98 L190.07 136.94 L191.16 135.91 L192.24 134.87 L193.33 133.83 L194.42 132.78 L195.50 131.74 L196.59 130.69 L197.67 129.63 L198.76 128.58 L199.84 127.52 L200.93 126.47 L202.01 125.41 L203.10 124.34 L204.18 123.28 L205.27 122.21 L206.36 121.15 L207.44 120.08 L208.53 119.01 L209.61 117.94 L210.70 116.87 L211.78 115.80 L212.87 114.72 L213.95 113.65 L215.04 112.58 L216.12 111.50 L217.21 110.43 L218.29 109.35 L219.38 108.28 L220.47 107.21 L221.55 106.13 L222.64 105.06 L223.72 103.99 L224.81 102.92 L225.89 101.85 L226.98 100.78 L228.06 99.71 L229.15 98.65 L230.23 97.58 L231.32 96.52 L232.41 95.46 L233.49 94.40 L234.58 93.34 L235.66 92.28 L236.75 91.23 L237.83 90.18 L238.92 89.13 L240.00 88.09 L241.09 87.04 L242.17 86.00 L243.26 84.97 L244.34 83.93 L245.43 82.90 L246.52 81.88 L247.60 80.85 L248.69 79.83 L249.77 78.82 L250.86 77.81 L251.94 76.80 L253.03 75.80 L254.11 74.80 L255.20 73.80 L256.28 72.81 L257.37 71.83 L258.46 70.85 L259.54 69.87 L260.63 68.90 L261.71 67.94 L262.80 66.98 L263.88 66.03 L264.97 65.08 L266.05 64.14 L267.14 63.20 L268.22 62.27 L269.31 61.35 L270.39 60.43 L271.48 59.52 L272.57 58.62 L273.65 57.72 L274.74 56.83 L275.82 55.95 L276.91 55.08 L277.99 54.21 L279.08 53.35 L280.16 52.49 L281.25 51.65 L282.33 50.81 L283.42 49.98 L284.51 49.16 L285.59 48.35 L286.68 47.54 L287.76 46.74 L288.85 45.96 L289.93 45.18 L291.02 44.41 L292.10 43.65 L293.19 42.90 L294.27 42.15 L295.36 41.42 L296.45 40.70 L297.53 39.99 L298.62 39.29 L299.70 38.60 L300.79 37.93 L301.87 37.26 L302.96 36.60 L304.04 35.96 L305.13 35.33 L306.21 34.71 L307.30 34.11 L308.38 33.52 L309.47 32.94 L310.56 32.37 L311.64 31.82 L312.73 31.28 L313.81 30.76 L314.90 30.25 L315.98 29.75 L317.07 29.27 L318.15 28.80 L319.24 28.35 L320.32 27.92 L321.41 27.50 L322.50 27.10 L323.58 26.71 L324.67 26.34 L325.75 25.99 L326.84 25.65 L327.92 25.33 L329.01 25.03 L330.09 24.75 L331.18 24.48 L332.26 24.23 L333.35 24.00 L334.43 23.79 L335.52 23.59 L336.61 23.41 L337.69 23.25 L338.78 23.10 L339.86 22.97 L340.95 22.86 L342.03 22.76 L343.12 22.68 L344.20 22.62 L345.29 22.57 L346.37 22.54 L347.46 22.52 L348.55 22.52 L349.63 22.53 L350.72 22.56 L351.80 22.60 L352.89 22.66 L353.97 22.73 L355.06 22.82 L356.14 22.92 L357.23 23.04 L358.31 23.17 L359.40 23.31 L360.49 23.47 L361.57 23.63 L362.66 23.82 L363.74 24.01 L364.83 24.22 L365.91 24.44 L367.00 24.68 L368.08 24.92 L369.17 25.18 L370.25 25.45 L371.34 25.74 L372.42 26.03 L373.51 26.34 L374.60 26.66 L375.68 26.99 L376.77 27.33 L377.85 27.68 L378.94 28.04 L380.02 28.41 L381.11 28.79 L382.19 29.18 L383.28 29.57 L384.36 29.96 L385.45 30.36 L386.54 30.75 L387.62 31.15 L388.71 31.54 L389.79 31.93 L390.88 32.31 L391.96 32.69 L393.05 33.05 L394.13 33.41 L395.22 33.75 L396.30 34.08 L397.39 34.40 L398.47 34.69 L399.56 34.97 L400.65 35.24 L401.73 35.47 L402.82 35.69 L403.90 35.88 L404.99 36.05 L406.07 36.19 L407.16 36.30 L408.24 36.38 L409.33 36.43 L410.41 36.44 L411.50 36.40" fill="none" stroke="#ff0000" stroke-width="1.6" stroke-dasharray="4.6 2.2"/>
<path d="M64.50 207.90 L65.25 207.90 L66.34 207.87 L67.42 207.86 L68.51 207.84 L69.59 207.80 L70.68 207.74 L71.76 207.66 L72.85 207.56 L73.93 207.44 L75.02 207.30 L76.10 207.13 L77.19 206.95 L78.28 206.75 L79.36 206.52 L80.45 206.28 L81.53 206.01 L82.62 205.72 L83.70 205.41 L84.79 205.08 L85.87 204.73 L86.96 204.36 L88.04 203.97 L89.13 203.57 L90.21 203.14 L91.30 202.69 L92.39 202.23 L93.47 201.75 L94.56 201.25 L95.64 200.73 L96.73 200.20 L97.81 199.64 L98.90 199.07 L99.98 198.49 L101.07 197.89 L102.15 197.27 L103.24 196.64 L104.33 195.99 L105.41 195.32 L106.50 194.64 L107.58 193.95 L108.67 193.24 L109.75 192.52 L110.84 191.78 L111.92 191.03 L113.01 190.27 L114.09 189.49 L115.18 188.70 L116.26 187.90 L117.35 187.09 L118.44 186.26 L119.52 185.43 L120.61 184.58 L121.69 183.72 L122.78 182.85 L123.86 181.97 L124.95 181.08 L126.03 180.18 L127.12 179.26 L128.20 178.34 L129.29 177.41 L130.38 176.47 L131.46 175.53 L132.55 174.57 L133.63 173.61 L134.72 172.63 L135.80 171.65 L136.89 170.67 L137.97 169.67 L139.06 168.66 L140.14 167.65 L141.23 166.63 L142.32 165.60 L143.40 164.56 L144.49 163.51 L145.57 162.46 L146.66 161.39 L147.74 160.32 L148.83 159.24 L149.91 158.15 L151.00 157.06 L152.08 155.95 L153.17 154.84 L154.25 153.72 L155.34 152.59 L156.43 151.45 L157.51 150.31 L158.60 149.15 L159.68 147.99 L160.77 146.82 L161.85 145.64 L162.94 144.46 L164.02 143.26 L165.11 142.06 L166.19 140.85 L167.28 139.64 L168.37 138.41 L169.45 137.19 L170.54 135.95 L171.62 134.71 L172.71 133.47 L173.79 132.22 L174.88 130.96 L175.96 129.70 L177.05 128.43 L178.13 127.16 L179.22 125.89 L180.30 124.61 L181.39 123.33 L182.48 122.05 L183.56 120.76 L184.65 119.47 L185.73 118.18 L186.82 116.88 L187.90 115.59 L188.99 114.29 L190.07 112.99 L191.16 111.69 L192.24 110.38 L193.33 109.08 L194.42 107.78 L195.50 106.47 L196.59 105.17 L197.67 103.87 L198.76 102.56 L199.84 101.26 L200.93 99.96 L202.01 98.66 L203.10 97.36 L204.18 96.07 L205.27 94.77 L206.36 93.48 L207.44 92.19 L208.53 90.90 L209.61 89.62 L210.70 88.34 L211.78 87.06 L212.87 85.79 L213.95 84.52 L215.04 83.25 L216.12 81.99 L217.21 80.74 L218.29 79.49 L219.38 78.24 L220.47 77.01 L221.55 75.77 L222.64 74.55 L223.72 73.32 L224.81 72.11 L225.89 70.90 L226.98 69.70 L228.06 68.51 L229.15 67.33 L230.23 66.15 L231.32 64.98 L232.41 63.82 L233.49 62.67 L234.58 61.52 L235.66 60.39 L236.75 59.27 L237.83 58.15 L238.92 57.05 L240.00 55.95 L241.09 54.87 L242.17 53.79 L243.26 52.73 L244.34 51.68 L245.43 50.64 L246.52 49.61 L247.60 48.60 L248.69 47.59 L249.77 46.60 L250.86 45.62 L251.94 44.65 L253.03 43.70 L254.11 42.76 L255.20 41.84 L256.28 40.93 L257.37 40.03 L258.46 39.15 L259.54 38.28 L260.63 37.42 L261.71 36.59 L262.80 35.76 L263.88 34.96 L264.97 34.17 L266.05 33.39 L267.14 32.63 L268.22 31.89 L269.31 31.16 L270.39 30.45 L271.48 29.75 L272.57 29.07 L273.65 28.40 L274.74 27.76 L275.82 27.12 L276.91 26.51 L277.99 25.91 L279.08 25.32 L280.16 24.75 L281.25 24.20 L282.33 23.67 L283.42 23.15 L284.51 22.65 L285.59 22.16 L286.68 21.69 L287.76 21.24 L288.85 20.80 L289.93 20.39 L291.02 19.98 L292.10 19.60 L293.19 19.23 L294.27 18.88 L295.36 18.54 L296.45 18.23 L297.53 17.93 L298.62 17.64 L299.70 17.38 L300.79 17.13 L301.87 16.90 L302.96 16.68 L304.04 16.49 L305.13 16.31 L306.21 16.15 L307.30 16.00 L308.38 15.87 L309.47 15.77 L310.56 15.67 L311.64 15.60 L312.73 15.55 L313.81 15.51 L314.90 15.49 L315.98 15.49 L317.07 15.50 L318.15 15.54 L319.24 15.59 L320.32 15.66 L321.41 15.75 L322.50 15.85 L323.58 15.97 L324.67 16.11 L325.75 16.27 L326.84 16.44 L327.92 16.63 L329.01 16.83 L330.09 17.05 L331.18 17.28 L332.26 17.53 L333.35 17.80 L334.43 18.07 L335.52 18.37 L336.61 18.67 L337.69 18.99 L338.78 19.33 L339.86 19.68 L340.95 20.04 L342.03 20.41 L343.12 20.80 L344.20 21.19 L345.29 21.60 L346.37 22.03 L347.46 22.46 L348.55 22.90 L349.63 23.36 L350.72 23.83 L351.80 24.30 L352.89 24.79 L353.97 25.29 L355.06 25.79 L356.14 26.31 L357.23 26.83 L358.31 27.36 L359.40 27.89 L360.49 28.42 L361.57 28.95 L362.66 29.47 L363.74 29.99 L364.83 30.51 L365.91 31.01 L367.00 31.51 L368.08 31.99 L369.17 32.46 L370.25 32.91 L371.34 33.34 L372.42 33.75 L373.51 34.15 L374.60 34.51 L375.68 34.86 L376.77 35.17 L377.85 35.47 L378.94 35.74 L380.02 35.99 L381.11 36.21 L382.19 36.41 L383.28 36.59 L384.36 36.75 L385.45 36.89 L386.54 37.01 L387.62 37.10 L388.71 37.18 L389.79 37.24 L390.88 37.28 L391.96 37.29 L393.05 37.30 L394.13 37.28 L395.22 37.25 L396.30 37.21 L397.39 37.16 L398.47 37.10 L399.56 37.03 L400.65 36.95 L401.73 36.88 L402.82 36.80 L403.90 36.73 L404.99 36.65 L406.07 36.58 L407.16 36.52 L408.24 36.47 L409.33 36.43 L410.41 36.40 L411.50 36.40" fill="none" stroke="#ff0000" stroke-width="1.6" />
<path d="M58.7 0.0 H412.3 V219.2 H58.7 Z" fill="none" stroke="#6a6a6a" stroke-width="0.75"/>
<path d="M65.30 219.2 v-3.2 M65.30 0.0 v3.2 M80.20 219.2 v-2.3 M80.20 0.0 v2.3 M95.11 219.2 v-2.3 M95.11 0.0 v2.3 M110.01 219.2 v-2.3 M110.01 0.0 v2.3 M124.92 219.2 v-3.2 M124.92 0.0 v3.2 M139.82 219.2 v-2.3 M139.82 0.0 v2.3 M154.73 219.2 v-2.3 M154.73 0.0 v2.3 M169.63 219.2 v-2.3 M169.63 0.0 v2.3 M184.54 219.2 v-3.2 M184.54 0.0 v3.2 M199.44 219.2 v-2.3 M199.44 0.0 v2.3 M214.35 219.2 v-2.3 M214.35 0.0 v2.3 M229.25 219.2 v-2.3 M229.25 0.0 v2.3 M244.16 219.2 v-3.2 M244.16 0.0 v3.2 M259.06 219.2 v-2.3 M259.06 0.0 v2.3 M273.97 219.2 v-2.3 M273.97 0.0 v2.3 M288.88 219.2 v-2.3 M288.88 0.0 v2.3 M303.78 219.2 v-3.2 M303.78 0.0 v3.2 M318.69 219.2 v-2.3 M318.69 0.0 v2.3 M333.59 219.2 v-2.3 M333.59 0.0 v2.3 M348.50 219.2 v-2.3 M348.50 0.0 v2.3 M363.40 219.2 v-3.2 M363.40 0.0 v3.2 M378.31 219.2 v-2.3 M378.31 0.0 v2.3 M393.21 219.2 v-2.3 M393.21 0.0 v2.3 M408.12 219.2 v-2.3 M408.12 0.0 v2.3 M58.7 211.34 h2.5 M412.3 211.34 h-2.5 M58.7 200.40 h3.4 M412.3 200.40 h-3.4 M58.7 189.46 h2.5 M412.3 189.46 h-2.5 M58.7 178.52 h2.5 M412.3 178.52 h-2.5 M58.7 167.58 h2.5 M412.3 167.58 h-2.5 M58.7 156.64 h2.5 M412.3 156.64 h-2.5 M58.7 145.70 h3.4 M412.3 145.70 h-3.4 M58.7 134.76 h2.5 M412.3 134.76 h-2.5 M58.7 123.82 h2.5 M412.3 123.82 h-2.5 M58.7 112.88 h2.5 M412.3 112.88 h-2.5 M58.7 101.94 h2.5 M412.3 101.94 h-2.5 M58.7 91.00 h3.4 M412.3 91.00 h-3.4 M58.7 80.06 h2.5 M412.3 80.06 h-2.5 M58.7 69.12 h2.5 M412.3 69.12 h-2.5 M58.7 58.18 h2.5 M412.3 58.18 h-2.5 M58.7 47.24 h2.5 M412.3 47.24 h-2.5 M58.7 36.30 h3.4 M412.3 36.30 h-3.4 M58.7 25.36 h2.5 M412.3 25.36 h-2.5 M58.7 14.42 h2.5 M412.3 14.42 h-2.5 M58.7 3.48 h2.5 M412.3 3.48 h-2.5" fill="none" stroke="#666" stroke-width="0.8"/>
<text x="55.9" y="42.6" font-size="17" text-anchor="end" fill="#000" font-family="Liberation Serif, serif">0</text>
<text x="55.9" y="97.3" font-size="17" text-anchor="end" fill="#000" font-family="Liberation Serif, serif">5</text>
<text x="45.9" y="97.3" font-size="17" text-anchor="end" fill="#000" font-family="Liberation Serif, serif">−</text>
<text x="55.9" y="152.0" font-size="17" text-anchor="end" fill="#000" font-family="Liberation Serif, serif">10</text>
<text x="37.4" y="152.0" font-size="17" text-anchor="end" fill="#000" font-family="Liberation Serif, serif">−</text>
<text x="55.9" y="206.7" font-size="17" text-anchor="end" fill="#000" font-family="Liberation Serif, serif">15</text>
<text x="37.4" y="206.7" font-size="17" text-anchor="end" fill="#000" font-family="Liberation Serif, serif">−</text>
<text x="65.6" y="238.7" font-size="17" text-anchor="middle" fill="#000" font-family="Liberation Serif, serif">0</text>
<text x="125.2" y="238.7" font-size="17" text-anchor="middle" fill="#000" font-family="Liberation Serif, serif">2</text>
<text x="184.8" y="238.7" font-size="17" text-anchor="middle" fill="#000" font-family="Liberation Serif, serif">4</text>
<text x="244.5" y="238.7" font-size="17" text-anchor="middle" fill="#000" font-family="Liberation Serif, serif">6</text>
<text x="304.1" y="238.7" font-size="17" text-anchor="middle" fill="#000" font-family="Liberation Serif, serif">8</text>
<text x="363.7" y="238.7" font-size="17" text-anchor="middle" fill="#000" font-family="Liberation Serif, serif">10</text>
<text x="213.2" y="265.8" font-size="16" text-anchor="start" fill="#000" font-family="Liberation Serif, serif" textLength="43.4" lengthAdjust="spacingAndGlyphs">r [km]</text>
<g transform="translate(17.1 167) rotate(-90)"><text x="0" y="0" font-size="15" text-anchor="start" fill="#000" font-family="Liberation Serif, serif" textLength="10" lengthAdjust="spacingAndGlyphs">Δ</text><text x="10.5" y="0" font-size="15" text-anchor="start" fill="#000" font-family="Liberation Serif, serif" textLength="7.5" lengthAdjust="spacingAndGlyphs">p</text><text x="19" y="3.4" font-size="10.5" text-anchor="start" fill="#000" font-family="Liberation Serif, serif" textLength="5.7" lengthAdjust="spacingAndGlyphs" font-style="italic">n</text><text x="34" y="0" font-size="15" text-anchor="start" fill="#000" font-family="Liberation Serif, serif" textLength="14.7" lengthAdjust="spacingAndGlyphs">(r)</text><text x="55.7" y="0" font-size="15" text-anchor="start" fill="#000" font-family="Liberation Serif, serif" textLength="16.7" lengthAdjust="spacingAndGlyphs">[10</text><text x="73.6" y="-6.0" font-size="10.5" text-anchor="start" fill="#000" font-family="Liberation Serif, serif" textLength="9.1" lengthAdjust="spacingAndGlyphs">34</text><text x="87.7" y="0" font-size="15" text-anchor="start" fill="#000" font-family="Liberation Serif, serif" textLength="24.3" lengthAdjust="spacingAndGlyphs">Pa]</text></g>
<text x="85.1" y="67.5" font-size="12" text-anchor="start" fill="#ff0000" font-family="Liberation Serif, serif" textLength="49.1" lengthAdjust="spacingAndGlyphs"><tspan font-style="italic">β</tspan> = −0.12</text>
<text x="85.1" y="87.3" font-size="12" text-anchor="start" fill="#0000ff" font-family="Liberation Serif, serif" textLength="49.1" lengthAdjust="spacingAndGlyphs"><tspan font-style="italic">β</tspan> = −0.06</text>
<text x="85.1" y="107.1" font-size="12" text-anchor="start" fill="#000" font-family="Liberation Serif, serif" textLength="54.7" lengthAdjust="spacingAndGlyphs"><tspan font-style="italic">β</tspan> = 0 (GR)</text>
<path d="M292.4 137.4 H312.3" stroke="#000" stroke-width="1.5" stroke-dasharray="1.9 1.55" fill="none"/>
<text x="319.3" y="141.9" font-size="12.1" text-anchor="start" fill="#000" font-family="Liberation Serif, serif" textLength="56.1" lengthAdjust="spacingAndGlyphs">n=0 mode</text>
<path d="M292.4 159.7 H312.3" stroke="#000" stroke-width="1.5" stroke-dasharray="5.6 1.6" fill="none"/>
<text x="319.3" y="164.2" font-size="12.1" text-anchor="start" fill="#000" font-family="Liberation Serif, serif" textLength="56.1" lengthAdjust="spacingAndGlyphs">n=1 mode</text>
<path d="M292.4 182.0 H312.3" stroke="#000" stroke-width="1.5"  fill="none"/>
<text x="319.3" y="186.5" font-size="12.1" text-anchor="start" fill="#000" font-family="Liberation Serif, serif" textLength="56.1" lengthAdjust="spacingAndGlyphs">n=2 mode</text>
</svg>
</body></html>
